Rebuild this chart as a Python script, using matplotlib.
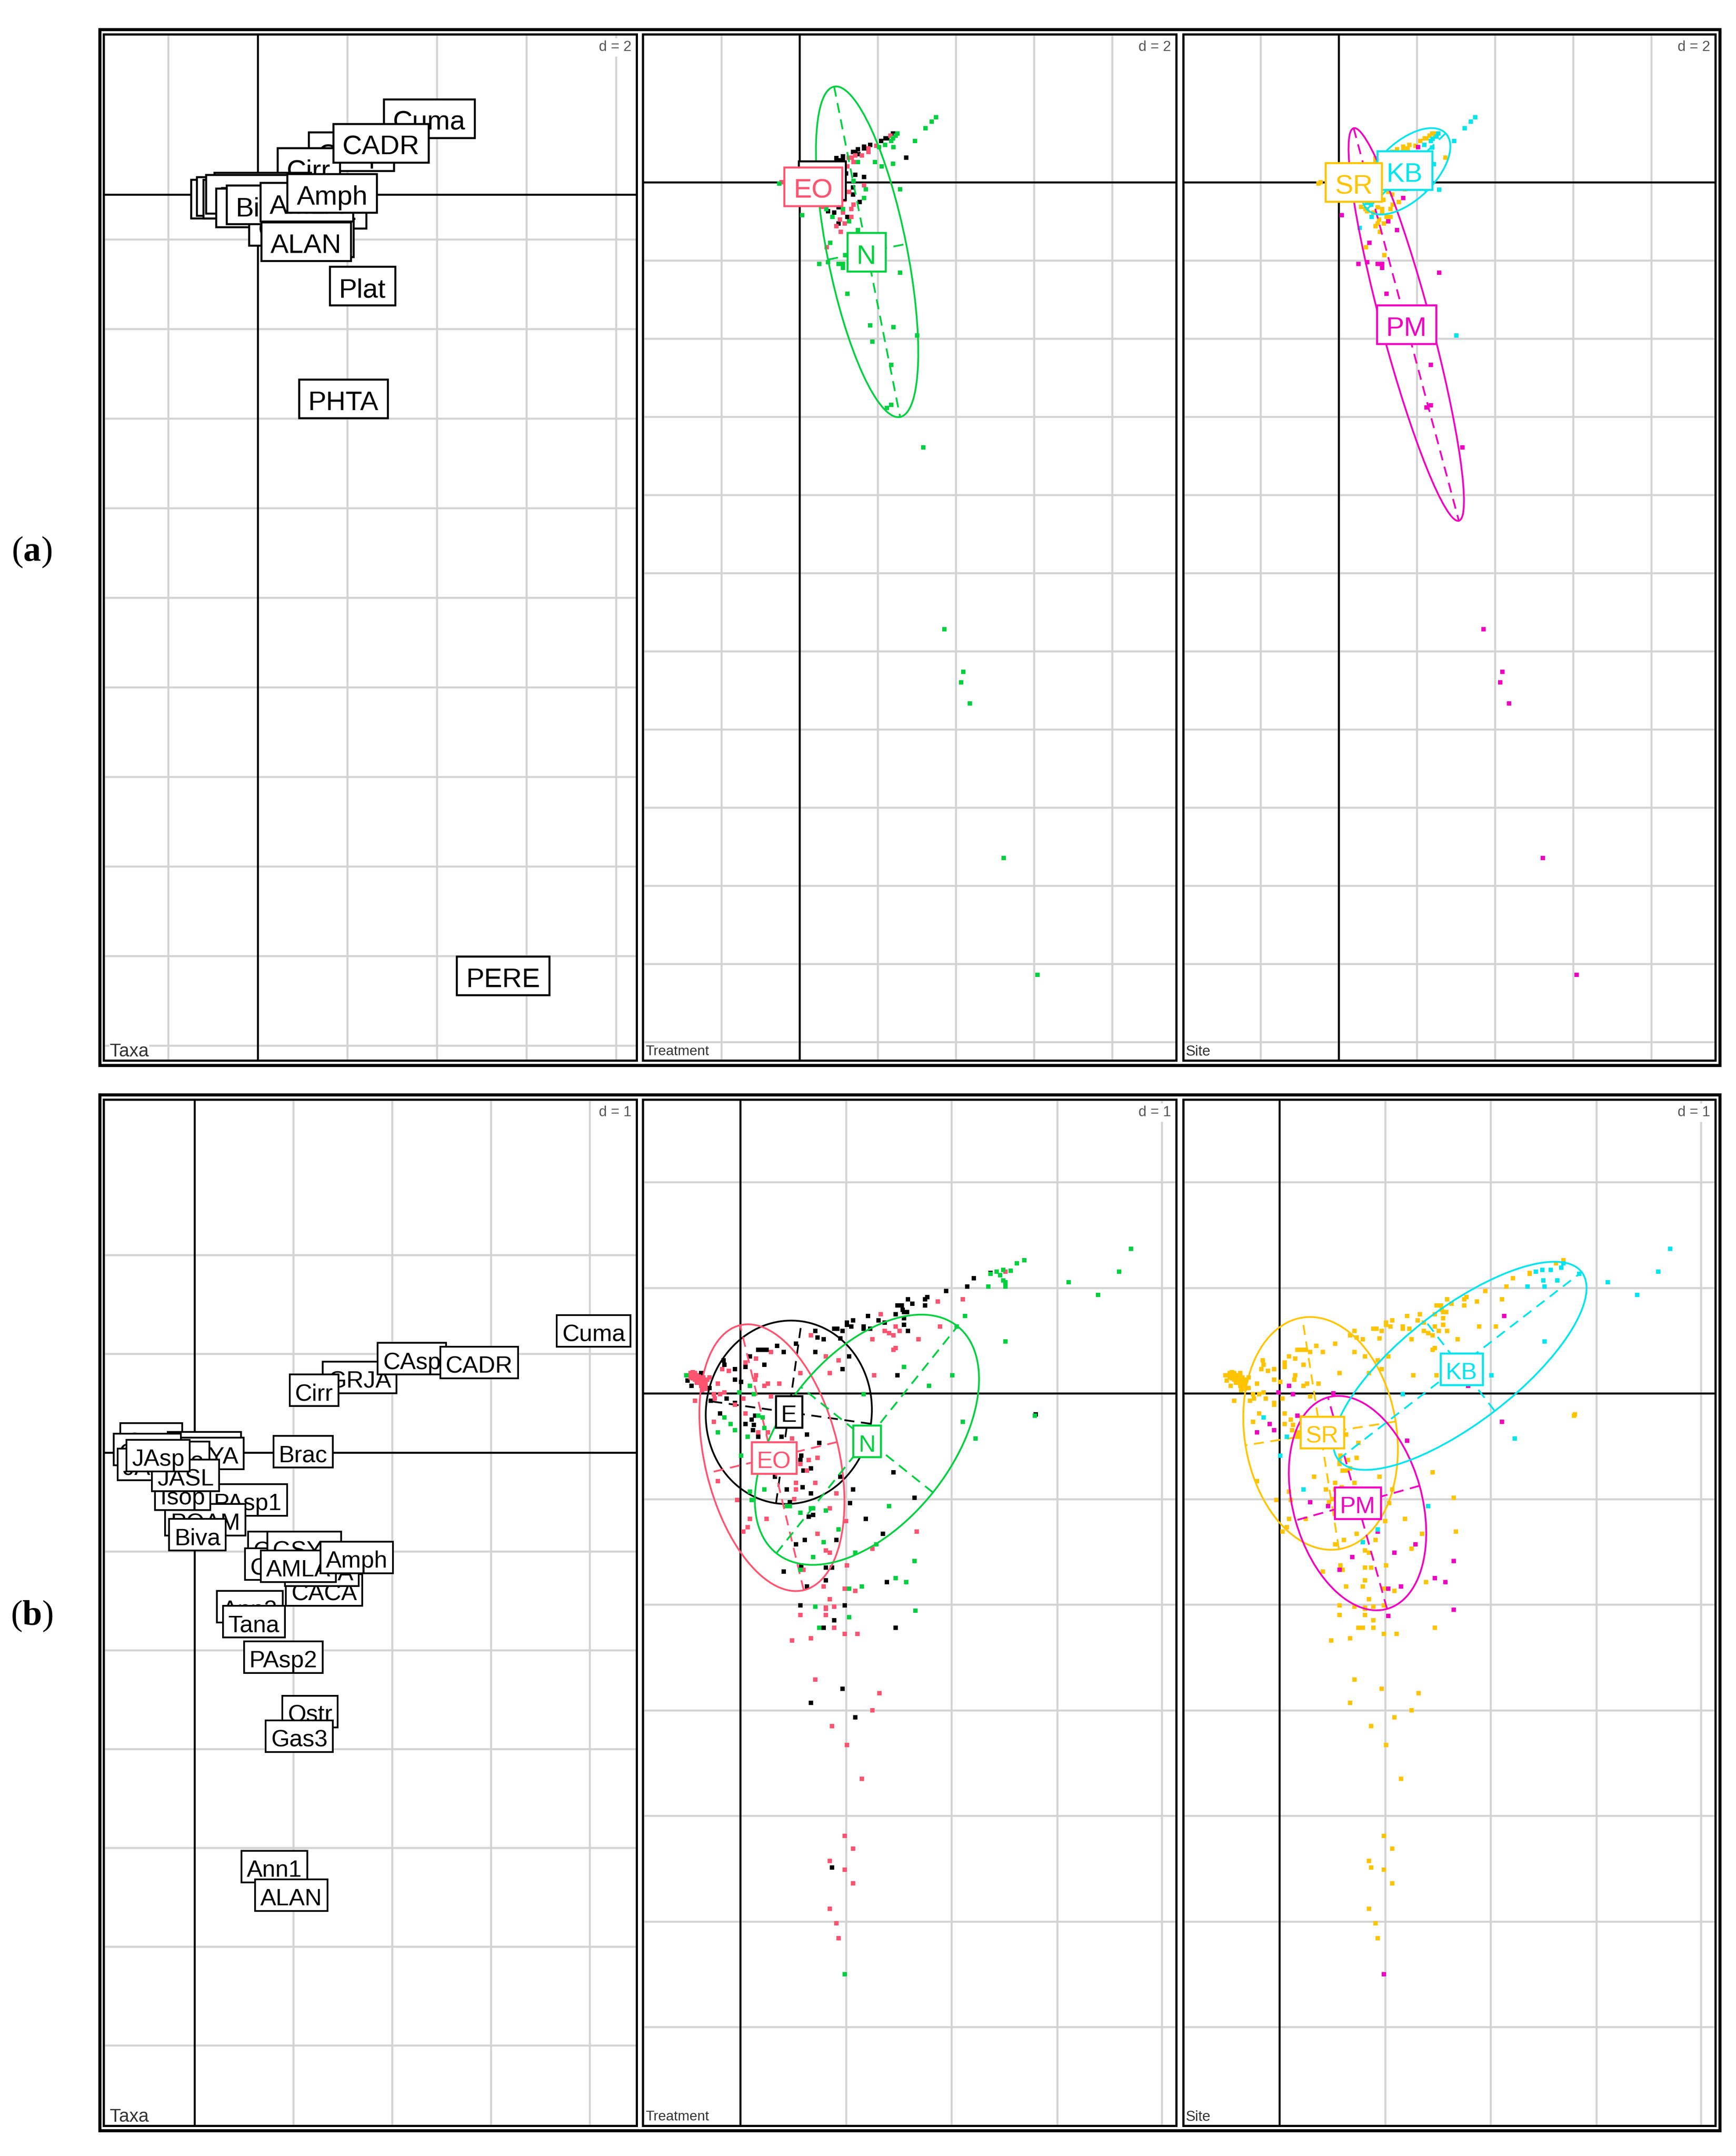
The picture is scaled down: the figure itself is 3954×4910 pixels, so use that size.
import numpy as np
import matplotlib
matplotlib.use('Agg')
import matplotlib.pyplot as plt
from matplotlib.patches import Ellipse, Rectangle
from matplotlib.transforms import IdentityTransform

plt.rcParams['font.family'] = ['Liberation Sans', 'DejaVu Sans']
plt.rcParams['lines.scale_dashes'] = False
plt.rcParams['mathtext.fontset'] = 'custom'
plt.rcParams['mathtext.rm'] = 'Liberation Serif'
plt.rcParams['mathtext.bf'] = 'Liberation Serif:bold'

BLACK = '#000000'
PINK = '#FF5470'
GREEN = '#00D040'
ORANGE = '#FFC400'
MAGENTA = '#F000C0'
CYAN = '#00E5EE'
GRID = '#D3D3D3'

# --- (a) taxa labels, drawn in this order
a_taxa = ['Cuma', 'CAsp', 'Cirr', 'CADR', 'Copp', 'Isop', 'PAsp1', 'JAsp', 'JASL', 'POAM', 'GSYL', 'CACA', 'Tana',
          'Biva', 'AMLA', 'Amph', 'ALAN', 'Plat', 'PHTA', 'PERE']
a_taxa_x = [3.83, 2.09, 1.14, 2.75, -0.56, -0.58, 0.11, -0.33, -0.22, 0.17, 1.40, 0.85, 1.27,
            0.10, 1.09, 1.66, 1.08, 2.34, 1.91, 5.48]
a_taxa_y = [1.70, 0.96, 0.61, 1.15, -0.10, -0.04, 0.06, -0.10, 0.01, -0.29, -0.32, -0.71, -0.96,
            -0.23, -0.17, 0.03, -1.05, -2.04, -4.56, -17.44]

# --- (a) sites by treatment
a_E_x = [2.73, 1.65, 1.43, 2.39, 2.20, 2.25, 2.09, 1.81, 1.65, 1.65, 1.49, 1.43, 1.37, 1.11, 1.11, 0.94, 0.94, 0.94,
         1.04, 1.15, 1.19, 1.15, 1.37, 1.37, 1.54, 1.00, 0.73, 0.89, 1.22, 1.00, 1.50]
a_E_y = [0.63, 0.14, 0.19, 1.25, 1.12, 1.12, 1.06, 0.95, 0.87, 0.91, 0.84, 0.78, 0.78, 0.66, 0.61, 0.62, 0.54, 0.46,
         0.56, 0.37, 0.22, -0.02, -0.13, -0.32, -0.51, -0.64, -0.74, -0.78, -0.89, -1.06, 0.72]
a_EO_x = [1.76, 1.76, 1.60, 1.43, 1.34, 1.26, 1.38, 1.22, 1.65, 1.27, 1.15, 1.38, 1.33, 1.11, 1.33, 1.03, 1.16, 0.94,
          1.06, 0.70, -0.46, 2.33, 1.97, 0.57]
a_EO_y = [0.87, 0.78, 0.68, 0.69, 0.63, 0.63, 0.52, 0.41, -0.08, -0.25, -0.45, -0.57, -0.68, -0.78, -0.89, -0.95,
          -1.06, -1.12, -1.27, -1.66, 0.00, 1.19, 0.93, -0.63]
a_N_x = [3.49, 3.38, 3.22, 2.95, 2.50, 2.46, 2.39, 2.35, 2.19, 2.03, 2.40, 1.49, 1.93, 2.10, 2.39, 1.38, 1.70, 2.57,
         1.65, -0.52, 0.07, 0.68, 1.11, 0.84, 1.27, 1.49, 0.79, 1.17, 0.51, 0.73, 1.00, 1.11, 1.11, 2.57, 1.22,
         1.81, 2.40, 1.87, 2.35, 2.35, 2.24, 3.17, 3.01, 3.71, 4.19, 4.14, 4.36, 5.22, 6.09]
a_N_y = [1.66, 1.55, 1.38, 1.06, 1.25, 1.19, 1.12, 1.06, 0.95, 0.90, 0.90, 0.52, 0.52, 0.41, 0.47, 0.03, -0.18, -0.18,
         -0.41, -0.03, -0.84, -0.68, -0.68, -0.89, -1.00, -1.22, -1.55, -1.87, -2.09, -2.04, -2.09, -2.09, -2.19,
         -2.31, -2.85, -3.66, -3.71, -4.08, -4.67, -5.70, -5.78, -6.79, -3.92, -11.44, -12.53, -12.80, -13.34,
         -17.29, -20.28]

# --- (a) sites that are not SR
a_PM_x = [0.08, 0.79, 0.51, 0.73, 1.00, 1.11, 1.11, 2.57, 1.22, 1.65, 2.03, 1.27, 1.49, 2.36, 2.25, 2.36, 3.17,
          3.71, 4.19, 4.14, 4.36, 5.22, 6.09]
a_PM_y = [-0.84, -1.55, -2.09, -2.04, -2.09, -2.09, -2.19, -2.31, -2.85, -0.41, 0.90, -1.00, -1.22, -4.67, -5.76,
          -5.71, -6.79, -11.44, -12.53, -12.80, -13.34, -17.29, -20.28]
a_KB_x = [3.49, 3.38, 3.22, 2.95, 2.57, 2.19, 0.84, 2.36, 2.41, 2.50, 2.55, 0.54, 0.72, 0.83, 2.44, 2.39, 3.01]
a_KB_y = [1.66, 1.55, 1.38, 1.06, -0.19, 0.95, -0.89, 1.06, 1.11, 1.17, 1.25, -1.17, -0.53, -0.57, 0.46, 0.89, -3.92]

# --- (a) class labels and ellipses
a_treat = ['E', 'EO', 'N']
a_treat_x = [0.58, 0.35, 1.71]
a_treat_y = [0.04, -0.11, -1.79]
a_site = ['PM', 'KB', 'SR']
a_site_x = [1.74, 1.69, 0.38]
a_site_y = [-3.64, 0.30, 0.00]

# centre x, centre y, semi axes, angle of the long axis
a_N_ell = [1.73, -1.78, 4.31, 1.02, -78.7]
a_PM_ell = [1.73, -3.64, 5.20, 0.63, -75.0]
a_KB_ell = [1.73, 0.28, 1.40, 0.73, 44.0]

# --- (b) taxa labels, drawn in this order
b_taxa = ['Capr', 'Nema', 'GAYA', 'Holo', 'Copp', 'JAcu', 'PAsp1', 'POAM', 'Isop', 'JASL', 'JAsp', 'Biva', 'Brac',
          'GRJA', 'Cirr', 'CAsp', 'CADR', 'Cuma', 'Cnid', 'Chae', 'GSYL', 'CACA', 'CHLA', 'AMLA', 'Amph', 'Ann2',
          'Tana', 'PAsp2', 'Ostr', 'Gas3', 'Ann1', 'ALAN']
b_taxa_x = [-0.44, 0.10, 0.13, -0.15, -0.48, -0.46, 0.54, 0.11, -0.12, -0.09, -0.37, 0.03, 1.10,
            1.67, 1.21, 2.20, 2.88, 4.04, 0.84, 0.85, 1.11, 1.31, 1.29, 1.05, 1.64, 0.56,
            0.60, 0.90, 1.17, 1.06, 0.81, 0.98]
b_taxa_y = [0.14, 0.05, -0.01, -0.05, 0.03, -0.12, -0.48, -0.68, -0.42, -0.23, -0.03, -0.83, 0.01,
            0.76, 0.63, 0.95, 0.91, 1.23, -0.96, -1.13, -0.96, -1.39, -1.19, -1.15, -1.06, -1.56,
            -1.71, -2.07, -2.62, -2.87, -4.19, -4.48]

# --- (b) sites by treatment
b_E_x = [2.37, 2.21, 2.15, 1.95, 1.59, 1.77, 1.75, 1.63, 1.75, 1.49, 1.53, 1.54, 1.58, 1.55, 1.47, 1.55, 1.55, 1.59,
         1.37, 1.31, 1.21, 1.07, 1.01, 1.01, 1.05, 1.17, 1.17, 1.23, 0.89, 0.92, 0.97, 0.71, 0.73, 0.79, 0.95, 0.53,
         0.35, 0.17, 0.21, 0.25, 0.41, 0.71, 0.09, 1.03, -0.16, -0.15, 0.23, 0.05, 0.97, -0.05, -0.05, 0.01, 1.49,
         -0.37, -0.37, -0.50, -0.46, -0.29, -0.13, -0.28, -0.05, -0.19, 0.05, 0.14, 0.11, 0.13, 0.12, 0.17, 0.39,
         0.63, 0.75, 0.58, 0.57, 0.67, 0.60, 0.33, 1.45, 0.95, 0.44, 0.59, 1.07, 0.67, 0.47, 1.65, 0.69, 0.65, 1.19,
         1.35, 0.61, 0.53, 0.91, 0.41, 0.81, 0.87, 0.58, 1.39, 0.81, 0.63, 0.57, 0.99, 0.89, 1.04,
         0.79, 1.47, 0.97, 0.67, 1.09, 0.87, 2.80]
b_E_y = [1.14, 1.09, 1.01, 0.97, 0.89, 0.91, 0.89, 0.85, 0.83, 0.83, 0.83, 0.79, 0.77, 0.77, 0.75, 0.71, 0.65, 0.59,
         0.67, 0.69, 0.73, 0.69, 0.67, 0.65, 0.63, 0.63, 0.61, 0.61, 0.61, 0.61, 0.59, 0.59, 0.53, 0.51, 0.52, 0.47,
         0.45, 0.41, 0.41, 0.41, 0.39, 0.39, 0.35, 0.35, 0.31, 0.27, 0.27, 0.25, 0.23, 0.23, 0.13, 0.11, 0.17,
         0.19, 0.17, 0.12, 0.07, 0.05, -0.05, -0.07, -0.09, -0.19, -0.29, -0.21, -0.25, -0.30, -0.35, -0.41, -0.41,
         -0.39, -0.47, -0.59, -0.63, -0.71, -0.73, -0.79, -0.75, -0.79, -0.91, -0.89, -0.91, -0.95, -1.03, -0.99,
         -1.15, -1.17, -1.19, -1.33, -1.39, -1.43, -1.39, -1.69, -1.65, -1.65, -1.63, -1.79, -1.77, -1.83, -2.01,
         -2.01, -2.15, -1.04, -2.22, -2.22, -2.80, -2.93, -3.07, -4.49, -0.20]
b_EO_x = [2.51, 2.11, 1.87, 1.33, 1.47, 1.89, 1.37, 1.41, 1.45, 1.51, 1.69, 1.25, 0.67, 1.47, 1.45, 0.29, 0.81, 0.93,
          0.15, 0.05, -0.17, -0.11, 0.57, 0.85, 1.27, 0.15, 0.14, -0.21, 0.26, 0.37, 0.23, -0.15, -0.19, -0.25, -0.24,
          0.03, 0.29, -0.43, -0.05, 0.05, -0.25, 0.26, 0.49, 0.17, 0.65, 0.57, 0.73, 0.63, -0.21, 0.53, 0.71, 0.53,
          0.91, -0.03, 0.51, 0.85, 0.09, 0.25, 1.00, 0.07, 0.03, 0.73, 1.67, 1.25, 0.81, 0.85, 1.01, 0.60, 0.79, 0.99,
          1.09, 0.85, 0.81, -0.49, -0.47, -0.45, -0.43, -0.41, -0.47, -0.45, -0.43, -0.41, -0.39, -0.37, -0.35, -0.33,
          -0.31, -0.29, -0.35, -0.39, -0.43, -0.37, -0.33, -0.41, -0.46, -0.36, -0.33, 0.81, 0.89, 0.57, 0.81, 0.89,
          0.99, 1.11, 0.67, 0.49, 0.71, 1.32, 1.25, 0.87, 1.01, 1.15, 0.99, 1.07, 0.85, 0.99, 1.07, 0.85, 0.91, 0.93]
b_EO_y = [1.15, 0.89, 0.87, 0.75, 0.63, 0.63, 0.59, 0.57, 0.55, 0.59, 0.51, 0.51, 0.55, 0.43, 0.41, 0.39, 0.35, 0.31,
          0.33, 0.29, 0.23, 0.21, 0.19, 0.19, 0.17, 0.17, 0.13, 0.09, 0.09, 0.09, 0.07, 0.01, -0.01, -0.01, -0.05,
          -0.05, -0.03, -0.07, -0.11, -0.19, -0.27, -0.37, -0.43, -0.37, -0.63, -0.67, -0.61, -0.73, -0.83, -0.85,
          -0.85, -0.91, -0.95, -1.01, -1.00, -1.09, -1.19, -1.19, -1.21, -1.27, -1.31, -1.33, -1.31, -1.47, -1.49,
          -1.51, -1.63, -1.67, -1.83, -1.85, -1.87, -1.95, -2.03, 0.17, 0.19, 0.20, 0.19, 0.17, 0.15, 0.14, 0.13, 0.12,
          0.13, 0.11, 0.10, 0.12, 0.13, 0.15, 0.15, 0.16, 0.16, 0.07, 0.08, 0.10, 0.18, 0.03, 0.04, -2.04, -2.02,
          -2.10, -2.10, -2.22, -2.28, -2.28, -2.32, -2.34, -2.71, -2.84, -3.00, -3.15, -3.33, -3.65, -4.19, -4.31,
          -4.43, -4.51, -4.64, -4.88, -5.02, -5.16]
b_N_x = [2.37, 2.43, 2.49, 2.49, 2.51, 2.51, 2.35, 2.13, 2.05, 2.51, 1.55, 2.01, 1.79, 1.17, -0.01, 0.09, 0.13, -0.51,
         -0.15, -0.09, -0.21, -0.05, 0.07, 0.21, 0.17, 0.23, 0.01, 2.11, 2.23, 0.23, 0.09, 0.11, 0.44, 0.47, 0.57,
         0.67, 0.69, 0.81, 1.41, 0.93, 0.79, 1.29, 1.09, 0.69, 1.65, 1.47, 1.57, 1.15, 1.03, 0.57, 0.71, 1.66, 1.03,
         0.75, 0.99, 3.70, 3.59, 3.39, 3.11, 2.69, 2.62, 2.56, 2.46, 2.79]
b_N_y = [1.13, 1.15, 1.17, 1.07, 1.05, 1.01, 1.01, 0.73, 0.63, 0.49, 0.25, 0.17, 0.07, -0.01, 0.01, 0.07, -0.01, 0.17,
         -0.23, -0.29, -0.37, -0.35, -0.41, -0.23, -0.21, -0.33, -0.59, -0.27, -0.43, -0.91, -0.93, -1.01, -1.07,
         -1.07, -1.13, -1.09, -1.09, -1.11, -1.07, -1.29, -1.41, -1.43, -1.51, -1.55, -1.59, -1.75, -1.79, -1.83,
         -1.85, -1.67, -2.02, -2.06, -2.12, -2.22, -5.50, 1.37, 1.15, 0.93, 1.05, 1.26, 1.23, 1.16, 1.12, -0.21]

# --- (b) sites that are not SR
b_PM_x = [0.09, -0.01, 0.13, 0.17, -0.09, -0.05, -0.21, 0.51, 1.79, 2.13, 2.11, 1.21, 0.29, 0.46, 0.93, 1.29, 1.09,
          0.69, 0.57, 1.65, 1.47, 1.57, 1.15, 1.03, 1.03, 1.65, 0.99]
b_PM_y = [0.07, 0.01, -0.01, -0.21, -0.29, -0.35, -0.37, 0.00, 0.07, 0.73, -0.27, -0.45, -1.03, -1.07, -1.31, -1.43,
          -1.51, -1.55, -1.67, -1.59, -1.75, -1.79, -1.83, -1.85, -2.11, -2.05, -5.50]
b_KB_x = [-0.15, 0.07, 0.01, 0.23, 1.41, 0.79, 0.93, 1.17, 2.01, 2.51, 2.23, 3.11, 2.63, 2.50, 2.51, 2.35, 2.43, 2.49,
          2.57, 2.67, 2.69, 2.84, 3.70, 3.59, 3.39]
b_KB_y = [-0.23, -0.41, -0.59, -0.91, -1.07, -1.41, -1.29, -0.01, 0.17, 0.49, -0.43, 1.05, 1.07, 1.07, 1.01, 1.01,
          1.15, 1.17, 1.17, 1.19, 1.23, 1.13, 1.37, 1.15, 0.93]

# --- (b) class labels and ellipses
b_treat = ['E', 'EO', 'N']
b_treat_x = [0.46, 0.32, 1.20]
b_treat_y = [-0.175, -0.61, -0.454]
b_site = ['SR', 'PM', 'KB']
b_site_x = [0.404, 0.742, 1.725]
b_site_y = [-0.37, -1.04, 0.23]

b_E_ell = [0.46, -0.18, 0.87, 0.785, 82.0]
b_EO_ell = [0.30, -0.61, 1.29, 0.635, 103.5]
b_N_ell = [1.20, -0.44, 1.375, 0.80, 51.4]
b_SR_ell = [0.39, -0.38, 1.11, 0.72, 99.0]
b_PM_ell = [0.74, -1.04, 1.04, 0.61, 105.6]
b_KB_ell = [1.71, 0.26, 1.455, 0.54, 37.6]

# grid positions
a1_xticks = [-2, 2, 4, 6, 8]
a1_yticks = [-1, -3, -5, -7, -9, -11, -13, -15, -17, -19]
a2_xticks = [-2, 2, 4, 6, 8]
a2_yticks = [-2, -4, -6, -8, -10, -12, -14, -16, -18, -20, -22]
b1_xticks = [1, 2, 3, 4]
b1_yticks = [2, 1, -1, -2, -3, -4, -5, -6]
b2_xticks = [1, 2, 3, 3.99]
b2_yticks = [2, 1, -1, -2, -3, -4, -5, -6]

W, H = 3954, 4910
fig = plt.figure(figsize=(W / 100, H / 100), dpi=100, facecolor='white')
renderer = fig.canvas.get_renderer()


def px(v):
    return v * 0.72


def make_panel(left, right, top, bottom, ox, oy, unit, xticks, yticks, d, name, name_size):
    ax = fig.add_axes([left / W, 1 - bottom / H, (right - left) / W, (bottom - top) / H])
    ax.set_xlim((left - ox) / unit, (right - ox) / unit)
    ax.set_ylim((oy - bottom) / unit, (oy - top) / unit)
    ax.set_autoscale_on(False)
    ax.set_xticks(xticks)
    ax.set_yticks(yticks)
    ax.tick_params(length=0, labelbottom=False, labelleft=False)
    ax.grid(True, color=GRID, linewidth=px(4.5))
    ax.set_axisbelow(True)
    for sp in ax.spines.values():
        sp.set_linewidth(px(5))
    ax.axvline(0, color='black', lw=px(4.5), zorder=1.5)
    ax.axhline(0, color='black', lw=px(4.5), zorder=1.5)
    ax.text(right - 12, H - (top + 30), 'd = %d' % d, transform=IdentityTransform(), ha='right', va='center',
            fontsize=px(33), color='#555555', zorder=2,
            bbox=dict(facecolor='white', edgecolor='none', pad=4))
    ax.text(left + (14 if name == 'Taxa' else 6), H - (bottom - 20), name, transform=IdentityTransform(), ha='left',
            va='center', fontsize=px(name_size), color='#333333', zorder=2,
            bbox=dict(facecolor='white', edgecolor='none', pad=1))
    return ax


def put_label(ax, x, y, s, size, pad, height, color='black', z=20, lw=4.5):
    cx, cy = ax.transData.transform((x, y))
    t = ax.text(cx, cy - 0.358 * size - 4, s, transform=IdentityTransform(), ha='center', va='baseline',
                fontsize=px(size), color=color, zorder=z + 0.5)
    w = t.get_window_extent(renderer).width + 2 * pad
    ax.add_patch(Rectangle((cx - w / 2, cy - height / 2), w, height, transform=IdentityTransform(),
                           facecolor='white', edgecolor=color, linewidth=px(lw), zorder=z))


def put_dots(ax, x, y, color, z=5):
    ax.scatter(x, y, marker='s', s=52, color=color, linewidths=0, zorder=z)


def put_ellipse(ax, par, color, z=6):
    cx, cy, a, b, ang = par
    ax.add_patch(Ellipse((cx, cy), 2 * a, 2 * b, angle=ang, fill=False, edgecolor=color, linewidth=px(4), zorder=z))
    t = np.radians(ang)
    ax.plot([cx - a * np.cos(t), cx + a * np.cos(t)], [cy - a * np.sin(t), cy + a * np.sin(t)],
            color=color, lw=px(4), ls=(0, (px(23), px(15))), zorder=z)
    ax.plot([cx + b * np.sin(t), cx - b * np.sin(t)], [cy - b * np.cos(t), cy + b * np.cos(t)],
            color=color, lw=px(4), ls=(0, (px(23), px(15))), zorder=z)


def site_rest(xs, ys, others_x, others_y):
    # the SR sites are the ones not listed for PM or KB
    xs, ys = np.array(xs), np.array(ys)
    keep = np.ones(len(xs), dtype=bool)
    for ox, oy in zip(others_x, others_y):
        keep &= (np.abs(xs - ox) > 0.03) | (np.abs(ys - oy) > 0.03)
    return xs[keep], ys[keep]


# ---------- row (a)
TOP_A, BOT_A = 78, 2415
TOP_B, BOT_B = 2504, 4841
L1, R1, L2, R2, L3, R3 = 236, 1450, 1464, 2679, 2695, 3907

ax = make_panel(L1, R1, TOP_A, BOT_A, 587, 443, 102, a1_xticks, a1_yticks, 2, 'Taxa', 42)
for i, s in enumerate(a_taxa):
    put_label(ax, a_taxa_x[i], a_taxa_y[i], s, 62, 21, 88, z=20 + i)

ax = make_panel(L2, R2, TOP_A, BOT_A, 1821, 415, 89, a2_xticks, a2_yticks, 2, 'Treatment', 32)
put_dots(ax, a_E_x, a_E_y, BLACK)
put_dots(ax, a_EO_x, a_EO_y, PINK, 5.1)
put_dots(ax, a_N_x, a_N_y, GREEN, 5.2)
put_ellipse(ax, a_N_ell, GREEN)
for i, (s, c) in enumerate(zip(a_treat, [BLACK, PINK, GREEN])):
    put_label(ax, a_treat_x[i], a_treat_y[i], s, 62, 33 if s == 'E' else 21, 88, color=c, z=20 + i)

ax = make_panel(L3, R3, TOP_A, BOT_A, 3049, 415, 89, a2_xticks, a2_yticks, 2, 'Site', 33)
sr_x, sr_y = site_rest(a_E_x + a_EO_x + a_N_x, a_E_y + a_EO_y + a_N_y, a_PM_x + a_KB_x, a_PM_y + a_KB_y)
put_dots(ax, sr_x, sr_y, ORANGE)
put_dots(ax, a_PM_x, a_PM_y, MAGENTA, 5.1)
put_dots(ax, a_KB_x, a_KB_y, CYAN, 5.2)
put_ellipse(ax, a_PM_ell, MAGENTA)
put_ellipse(ax, a_KB_ell, CYAN)
for i, (s, c) in enumerate(zip(a_site, [MAGENTA, CYAN, ORANGE])):
    put_label(ax, a_site_x[i], a_site_y[i], s, 62, 21, 88, color=c, z=20 + i)

# ---------- row (b)
ax = make_panel(L1, R1, TOP_B, BOT_B, 443, 3308, 225, b1_xticks, b1_yticks, 1, 'Taxa', 42)
for i, s in enumerate(b_taxa):
    put_label(ax, b_taxa_x[i], b_taxa_y[i], s, 54, 12, 72, z=20 + i, lw=4)

ax = make_panel(L2, R2, TOP_B, BOT_B, 1686, 3173, 240.5, b2_xticks, b2_yticks, 1, 'Treatment', 32)
put_dots(ax, b_E_x, b_E_y, BLACK)
put_ellipse(ax, b_E_ell, BLACK, 5.05)
put_dots(ax, b_EO_x, b_EO_y, PINK, 5.1)
put_ellipse(ax, b_EO_ell, PINK, 5.15)
put_dots(ax, b_N_x, b_N_y, GREEN, 5.2)
put_ellipse(ax, b_N_ell, GREEN, 5.25)
for i, (s, c) in enumerate(zip(b_treat, [BLACK, PINK, GREEN])):
    put_label(ax, b_treat_x[i], b_treat_y[i], s, 54, 12, 72, color=c, z=20 + i)

ax = make_panel(L3, R3, TOP_B, BOT_B, 2914, 3173, 240.5, b2_xticks, b2_yticks, 1, 'Site', 33)
sr_x, sr_y = site_rest(b_E_x + b_EO_x + b_N_x, b_E_y + b_EO_y + b_N_y, b_PM_x + b_KB_x, b_PM_y + b_KB_y)
put_dots(ax, sr_x, sr_y, ORANGE)
put_ellipse(ax, b_SR_ell, ORANGE, 5.05)
put_dots(ax, b_PM_x, b_PM_y, MAGENTA, 5.1)
put_ellipse(ax, b_PM_ell, MAGENTA, 5.15)
put_dots(ax, b_KB_x, b_KB_y, CYAN, 5.2)
put_ellipse(ax, b_KB_ell, CYAN, 5.25)
for i, (s, c) in enumerate(zip(b_site, [ORANGE, MAGENTA, CYAN])):
    put_label(ax, b_site_x[i], b_site_y[i], s, 54, 12, 72, color=c, z=20 + i)

# outer frames and the panel letters
for top, bot in [(67, 2426), (2493, 4852)]:
    fig.add_artist(Rectangle((227 / W, 1 - bot / H), (3917 - 227) / W, (bot - top) / H, transform=fig.transFigure,
                             fill=False, edgecolor='black', linewidth=px(7)))
fig.text(72 / W, 1 - 1258 / H, r'($\mathbf{a}$)', ha='center', va='center', fontsize=58,
         family='Liberation Serif')
fig.text(72 / W, 1 - 3681 / H, r'($\mathbf{b}$)', ha='center', va='center', fontsize=58,
         family='Liberation Serif')

fig.savefig('out.png', dpi=100, facecolor='white')
